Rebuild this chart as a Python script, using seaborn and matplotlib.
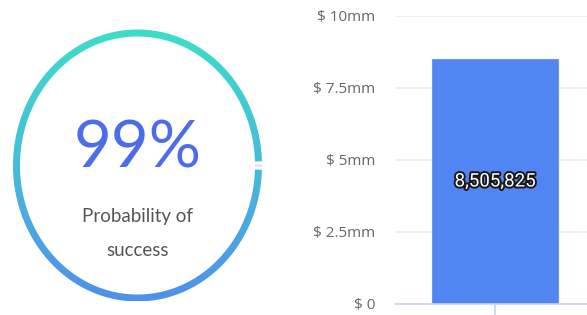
import numpy as np
import pandas as pd
import matplotlib
matplotlib.use("Agg")
import matplotlib.pyplot as plt
import matplotlib.patheffects as pe
from matplotlib.patches import Polygon
from matplotlib.colors import LinearSegmentedColormap
import seaborn as sns

# ---- data ----
probability = 99                 # percent
gauge_label = ["Probability of", "success"]
categories = [""]
values = [8505825]
ytick_values = [0, 2.5e6, 5e6, 7.5e6, 10e6]
ytick_labels = ["$ 0", "$ 2.5mm", "$ 5mm", "$ 7.5mm", "$ 10mm"]

sns.set_theme(style="white")
plt.rcParams["font.family"] = ["Open Sans", "DejaVu Sans"]

W, H = 587, 315
fig = plt.figure(figsize=(W / 100, H / 100), dpi=100)

# ---- gauge (pixel-coordinate axes) ----
gx = fig.add_axes([0, 0, 1, 1])
gx.set_xlim(0, W)
gx.set_ylim(H, 0)
gx.axis("off")

cx, cy, rx, ry = 137.5, 165.5, 121.0, 132.5
half = 3.5
gap_deg = 360 * (100 - probability) / 100


def annulus(a0, a1, n=600):
    t = np.radians(np.linspace(a0, a1, n))
    ox = cx + (rx + half) * np.cos(t)
    oy = cy - (ry + half) * np.sin(t)
    ix = cx + (rx - half) * np.cos(t[::-1])
    iy = cy - (ry - half) * np.sin(t[::-1])
    return np.column_stack([np.concatenate([ox, ix]), np.concatenate([oy, iy])])


ring = Polygon(annulus(gap_deg / 2, 360 - gap_deg / 2), closed=True,
               facecolor="none", edgecolor="none")
gx.add_patch(ring)
cmap = LinearSegmentedColormap.from_list("g", ["#3EDDC8", "#46BCDA", "#5090EA"])
grad = np.linspace(0, 1, 256).reshape(-1, 1)
im = gx.imshow(grad, cmap=cmap, aspect="auto", interpolation="bilinear",
               extent=[cx - rx - 10, cx + rx + 10, cy + ry + half, cy - ry - half],
               zorder=2)
im.set_clip_path(ring)
gx.set_xlim(0, W)
gx.set_ylim(H, 0)
rest = Polygon(annulus(-gap_deg / 6, gap_deg / 6, 20), closed=True,
               facecolor="#E4E8EF", edgecolor="none", zorder=2)
gx.add_patch(rest)

gx.text(cx, 168, f"{probability}%", ha="center", va="baseline",
        fontsize=47, color="#4C6CEA", family=["Lato", "DejaVu Sans"],
        fontweight="normal")
gx.text(cx, 222, gauge_label[0], ha="center", va="baseline", fontsize=13.5,
        color="#555555", family=["Lato", "DejaVu Sans"])
gx.text(cx, 256, gauge_label[1], ha="center", va="baseline", fontsize=13.5,
        color="#555555", family=["Lato", "DejaVu Sans"])

# ---- bar chart ----
left_px, right_px, top_px, bot_px = 395, 595, 16, 304
ax = fig.add_axes([left_px / W, (H - bot_px) / H,
                   (right_px - left_px) / W, (bot_px - top_px) / H])
df = pd.DataFrame({"cat": categories, "val": values})
sns.barplot(data=df, x="cat", y="val", color="#5085F2", saturation=1,
            width=0.8, ax=ax, edgecolor="#6A98F5", linewidth=0.8)
ax.set_xlim(-0.63, 0.63)
ax.set_ylim(0, 10e6)
ax.set_yticks(ytick_values)
ax.set_yticklabels(ytick_labels)
ax.set_xlabel("")
ax.set_ylabel("")
ax.set_xticks([0])
ax.set_xticklabels([""])
for s in ["top", "right", "left"]:
    ax.spines[s].set_visible(False)
ax.spines["bottom"].set_color("#C8D4F2")
ax.spines["bottom"].set_linewidth(1.2)
ax.grid(axis="y", color="#E7E8EC", lw=1.1)
ax.set_axisbelow(True)
ax.tick_params(axis="y", left=False, length=0, pad=14, labelsize=11,
               labelcolor="#666666")
ax.tick_params(axis="x", bottom=True, length=9, width=1.5, color="#D0DAF5",
               direction="out")
for lbl in ax.get_yticklabels():
    lbl.set_fontfamily(["Open Sans", "DejaVu Sans"])

for p, v in zip(ax.patches, values):
    ax.text(p.get_x() + p.get_width() / 2, v / 2, f"{v:,}", ha="center",
            va="center", fontsize=13.5, color="white",
            family=["Roboto", "DejaVu Sans"],
            path_effects=[pe.Stroke(linewidth=2.8, foreground="#1a1a1a"), pe.Normal()])

fig.savefig("out.png", dpi=100)
